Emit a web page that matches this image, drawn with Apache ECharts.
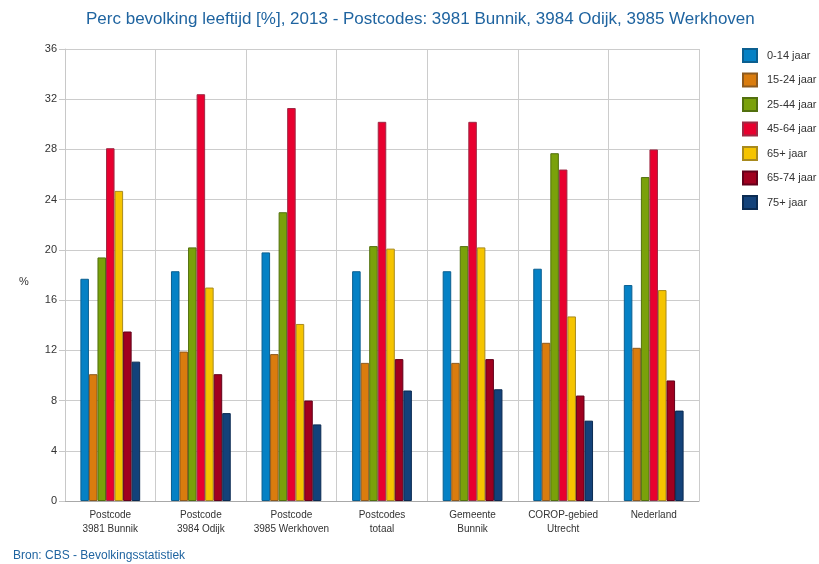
<!DOCTYPE html>
<html>
<head>
<meta charset="utf-8">
<script src="https://cdn.jsdelivr.net/npm/echarts@6/dist/echarts.min.js"></script>
<style>
  html, body { margin: 0; padding: 0; background: #fff; }
  #chart { width: 819px; height: 564px; }
</style>
</head>
<body>
<div id="chart"></div>
<script>
// Regions shown along the x axis
const categories = [
  'Postcode\n3981 Bunnik',
  'Postcode\n3984 Odijk',
  'Postcode\n3985 Werkhoven',
  'Postcodes\ntotaal',
  'Gemeente\nBunnik',
  'COROP-gebied\nUtrecht',
  'Nederland'
];

// Age groups (series names)
const ageGroups = ['0-14 jaar', '15-24 jaar', '25-44 jaar', '45-64 jaar', '65+ jaar', '65-74 jaar', '75+ jaar'];

// Share of population per age group, in percent, per region
const age0to14  = [17.7, 18.3, 19.8, 18.3, 18.3, 18.5, 17.2];
const age15to24 = [10.1, 11.9, 11.7, 11.0, 11.0, 12.6, 12.2];
const age25to44 = [19.4, 20.2, 23.0, 20.3, 20.3, 27.7, 25.8];
const age45to64 = [28.1, 32.4, 31.3, 30.2, 30.2, 26.4, 28.0];
const age65plus = [24.7, 17.0, 14.1, 20.1, 20.2, 14.7, 16.8];
const age65to74 = [13.5, 10.1, 8.0, 11.3, 11.3, 8.4, 9.6];
const age75plus = [11.1, 7.0, 6.1, 8.8, 8.9, 6.4, 7.2];

// y axis range and step
const yMin = 0;
const yMax = 36;
const yStep = 4;

const seriesValues = [age0to14, age15to24, age25to44, age45to64, age65plus, age65to74, age75plus];
const fillColors   = ['#0581C5', '#DA7C0E', '#7AA10A', '#E8002F', '#F5C400', '#A0001F', '#13427A'];
const edgeColors   = ['#0B5F90', '#8E5A1E', '#52700E', '#9E2A45', '#A88A1E', '#62001A', '#0B2B52'];

const font = '"Liberation Sans", Arial, sans-serif';

const chart = echarts.init(document.getElementById('chart'), null, { renderer: 'canvas' });

chart.setOption({
  animation: false,
  backgroundColor: '#ffffff',
  title: {
    text: 'Perc bevolking leeftijd [%], 2013 - Postcodes: 3981 Bunnik, 3984 Odijk, 3985 Werkhoven',
    left: 81,
    top: 6,
    textStyle: { fontFamily: font, fontSize: 17, fontWeight: 'normal', color: '#1F64A0' }
  },
  graphic: [{
    type: 'text',
    left: 13,
    top: 550,
    style: { text: 'Bron: CBS - Bevolkingsstatistiek', font: '12px ' + font, fill: '#1F64A0' }
  }, {
    type: 'text',
    x: 24,
    y: 282,
    style: { text: '%', font: '11px ' + font, fill: '#333', align: 'center', verticalAlign: 'middle' }
  }],
  legend: {
    orient: 'vertical',
    left: 737,
    top: 43,
    itemWidth: 14,
    itemHeight: 13,
    itemGap: 9.5,
    icon: 'rect',
    textStyle: { fontFamily: font, fontSize: 11, color: '#333', padding: [0, 0, 0, 5] },
    data: ageGroups
  },
  grid: { left: 65, right: 120, top: 49, bottom: 63, containLabel: false },
  xAxis: {
    type: 'category',
    data: categories,
    boundaryGap: true,
    axisLine: { show: true, lineStyle: { color: '#a8a8a8', width: 1 } },
    axisTick: { show: false },
    splitLine: { show: true, lineStyle: { color: '#cccccc', width: 1 } },
    axisLabel: { fontFamily: font, fontSize: 10, color: '#333', lineHeight: 14, margin: 7, interval: 0 }
  },
  yAxis: {
    type: 'value',
    min: yMin,
    max: yMax,
    interval: yStep,
    axisLine: { show: true, lineStyle: { color: '#c8c8c8' } },
    axisTick: { show: true, length: 6, lineStyle: { color: '#c8c8c8' } },
    splitLine: { show: true, lineStyle: { color: '#cccccc', width: 1 } },
    axisLabel: { fontFamily: font, fontSize: 11, color: '#333', margin: 8 }
  },
  series: ageGroups.map((name, i) => ({
    name: name,
    type: 'bar',
    data: seriesValues[i],
    barGap: '0%',
    barCategoryGap: '34%',
    itemStyle: { color: fillColors[i], borderColor: edgeColors[i], borderWidth: 1 }
  }))
});
</script>
</body>
</html>
